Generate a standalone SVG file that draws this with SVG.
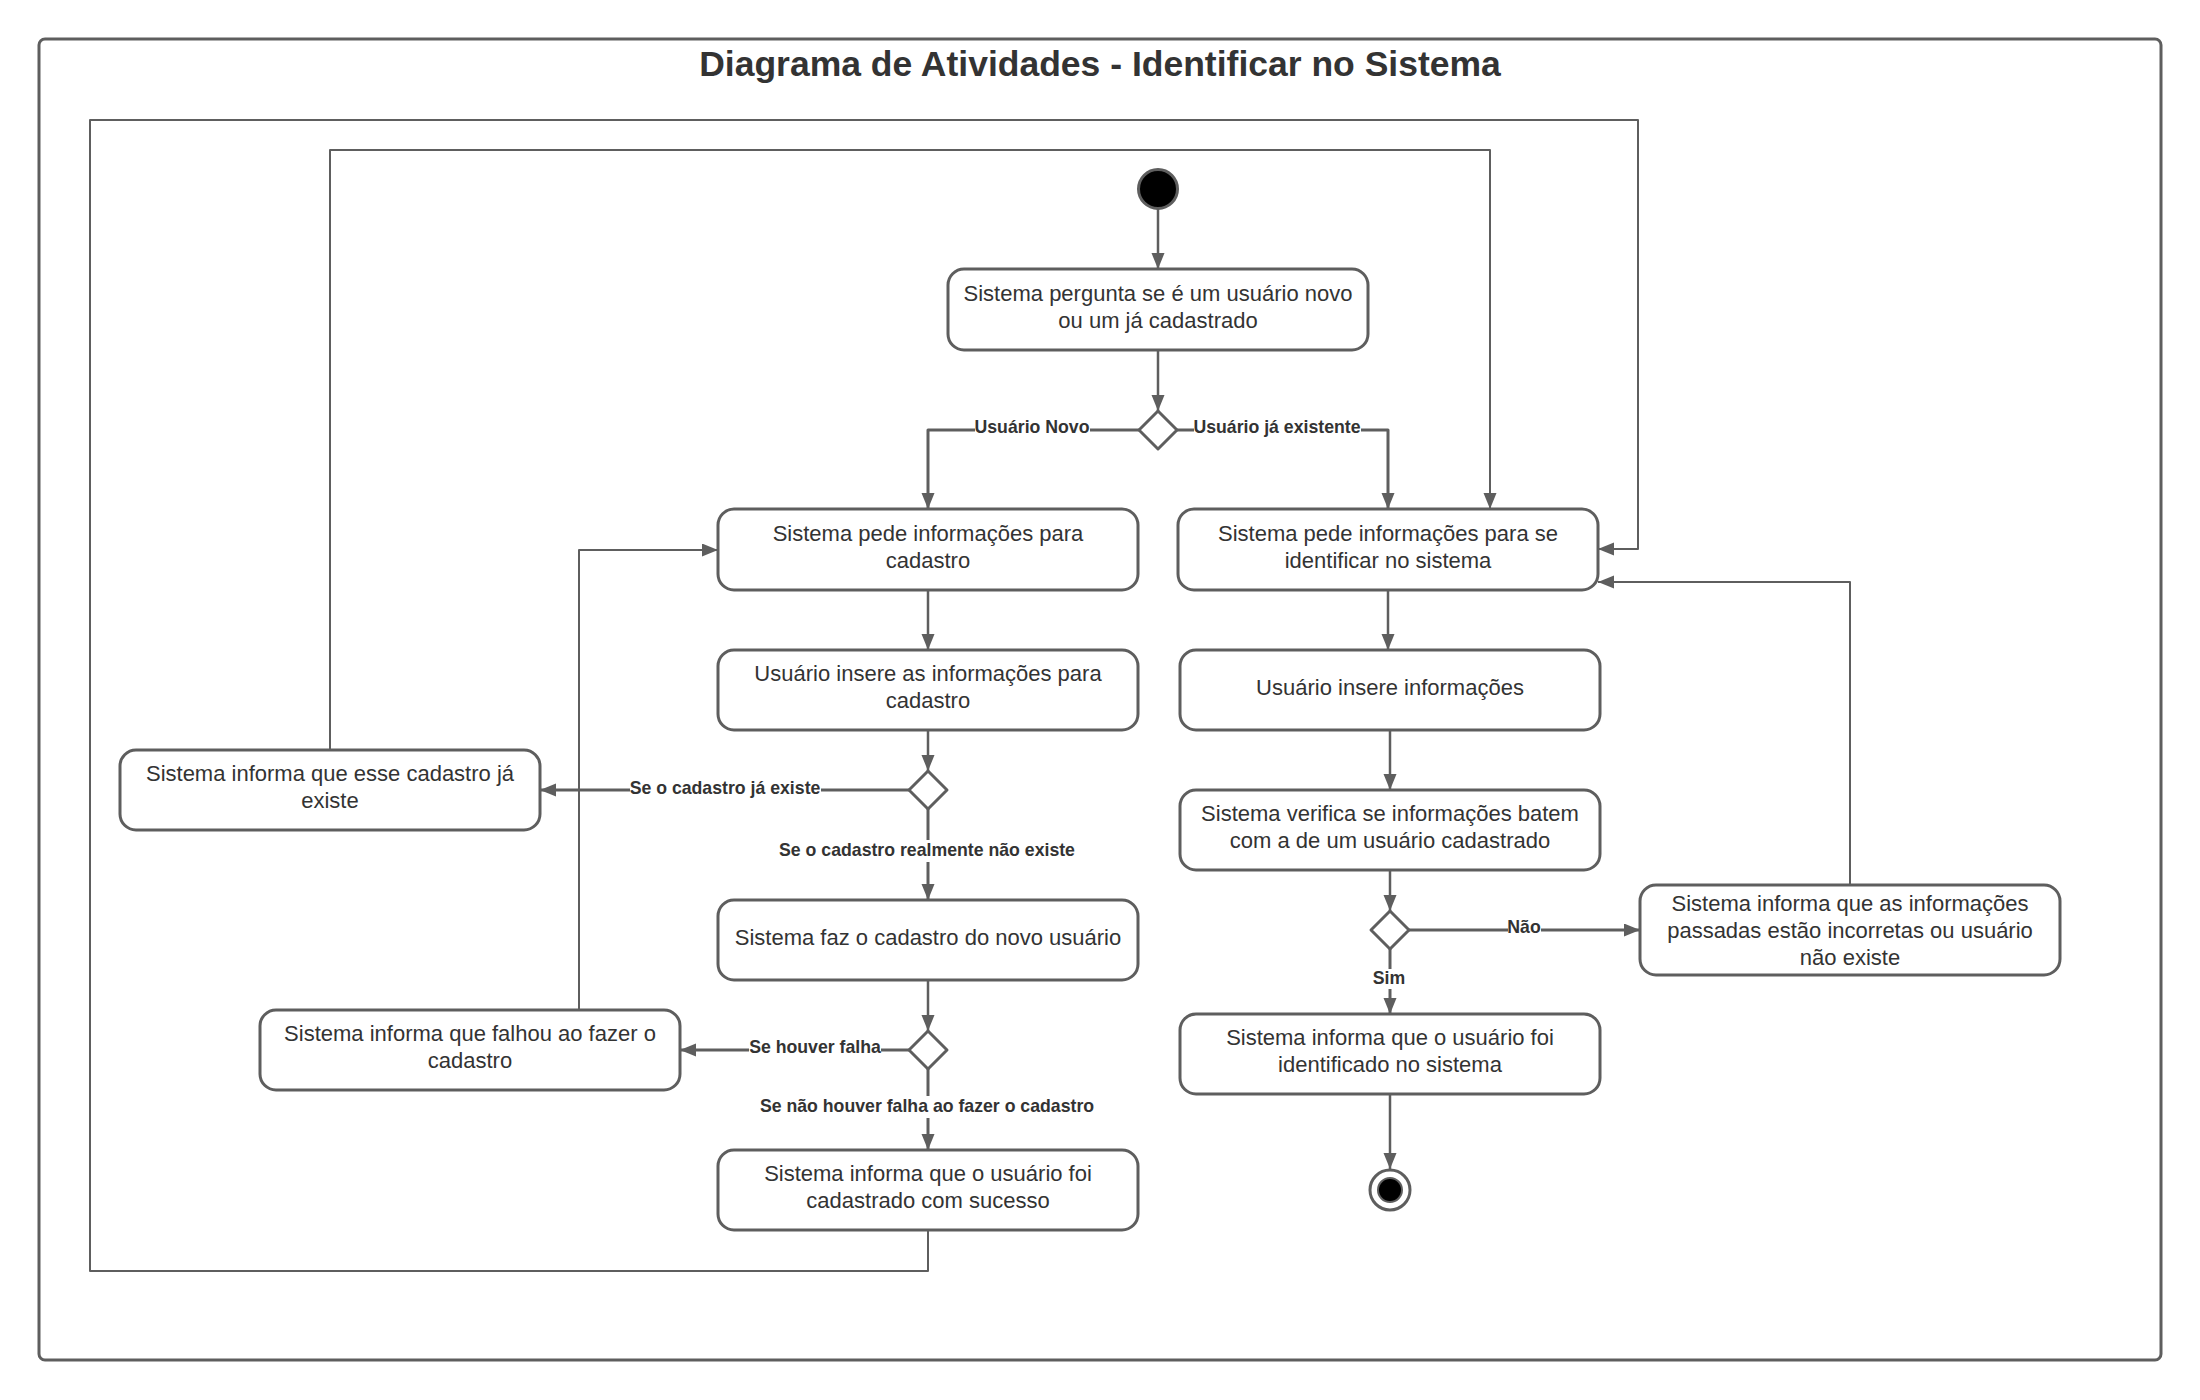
<svg xmlns="http://www.w3.org/2000/svg" width="2200" height="1400" viewBox="0 0 2200 1400">
<defs>
<marker id="arr" markerUnits="userSpaceOnUse" markerWidth="18" markerHeight="14" refX="16" refY="6.5" orient="auto">
<path d="M0,0 L16,6.5 L0,13 z" fill="#5e5e5e"/>
</marker>
<style>
.node rect{fill:#fff;stroke:#5e5e5e;stroke-width:3}
.node text{font-family:"Liberation Sans",Arial,sans-serif;font-size:22px;fill:#333;text-anchor:middle}
.dec polygon{fill:#fff;stroke:#5e5e5e;stroke-width:3;stroke-linejoin:round}
.c{fill:none;stroke:#5e5e5e;stroke-width:2.5;stroke-linejoin:round;marker-end:url(#arr)}
.loop{stroke-width:2}
.br{stroke-width:3}
.lbl text{font-family:"Liberation Sans",Arial,sans-serif;font-size:17.7px;font-weight:bold;fill:#333;text-anchor:middle}
.lbl rect{fill:#fff}
</style>
</defs>
<rect x="39" y="39" width="2122" height="1321" rx="6" fill="#fff" stroke="#5e5e5e" stroke-width="3"/>
<text x="1100" y="76" font-family="'Liberation Sans',Arial,sans-serif" font-size="35.5" font-weight="bold" fill="#333" text-anchor="middle">Diagrama de Atividades - Identificar no Sistema</text>

<g id="connectors">
<path class="c" d="M1158,209 V269"/>
<path class="c" d="M1158,350 V411"/>
<path class="c br" d="M1139,430 H928 V509"/>
<path class="c br" d="M1177,430 H1388 V509"/>
<path class="c" d="M928,590 V650"/>
<path class="c" d="M928,730 V771"/>
<path class="c br" d="M909,790 H540"/>
<path class="c br" d="M928,809 V900"/>
<path class="c" d="M928,980 V1031"/>
<path class="c br" d="M909,1050 H680"/>
<path class="c br" d="M928,1069 V1150"/>
<path class="c loop" d="M330,750 V150 H1490 V509"/>
<path class="c loop" d="M579,1010 V550 H718"/>
<path class="c loop" d="M928,1230 V1271 H90 V120 H1638 V549 H1598"/>
<path class="c" d="M1388,590 V650"/>
<path class="c" d="M1390,730 V790"/>
<path class="c" d="M1390,870 V911"/>
<path class="c br" d="M1409,930 H1640"/>
<path class="c br" d="M1390,949 V1014"/>
<path class="c loop" d="M1850,885 V582 H1598"/>
<path class="c" d="M1390,1094 V1169"/>
</g>

<g class="lbl">
<g id="lbl-novo"><rect x="975" y="418" width="115" height="20"/><text x="1032" y="433">Usuário Novo</text></g>
<g id="lbl-existente"><rect x="1194" y="418" width="167" height="20"/><text x="1277" y="433">Usuário já existente</text></g>
<g id="lbl-jaexiste"><rect x="630" y="779" width="191" height="20"/><text x="725" y="794">Se o cadastro já existe</text></g>
<g id="lbl-naoexiste"><rect x="779" y="840" width="296" height="22"/><text x="927" y="856">Se o cadastro realmente não existe</text></g>
<g id="lbl-falha"><rect x="749" y="1038" width="132" height="20"/><text x="815" y="1053">Se houver falha</text></g>
<g id="lbl-semfalha"><rect x="759" y="1096" width="336" height="22"/><text x="927" y="1112">Se não houver falha ao fazer o cadastro</text></g>
<g id="lbl-nao"><rect x="1508" y="918" width="33" height="20"/><text x="1524" y="933">Não</text></g>
<g id="lbl-sim"><rect x="1373" y="969" width="32" height="20"/><text x="1389" y="984">Sim</text></g>
</g>

<g id="start"><circle cx="1158" cy="189" r="19.5" fill="#000" stroke="#5e5e5e" stroke-width="3"/></g>

<g id="n1" class="node"><rect x="948" y="269" width="420" height="81" rx="16"/><text x="1158" y="301">Sistema pergunta se é um usuário novo</text><text x="1158" y="328">ou um já cadastrado</text></g>
<g id="d1" class="dec"><polygon points="1158,411 1177,430 1158,449 1139,430"/></g>
<g id="n2" class="node"><rect x="718" y="509" width="420" height="81" rx="16"/><text x="928" y="541">Sistema pede informações para</text><text x="928" y="568">cadastro</text></g>
<g id="n3" class="node"><rect x="1178" y="509" width="420" height="81" rx="16"/><text x="1388" y="541">Sistema pede informações para se</text><text x="1388" y="568">identificar no sistema</text></g>
<g id="n4" class="node"><rect x="718" y="650" width="420" height="80" rx="16"/><text x="928" y="681">Usuário insere as informações para</text><text x="928" y="708">cadastro</text></g>
<g id="d2" class="dec"><polygon points="928,771 947,790 928,809 909,790"/></g>
<g id="n5" class="node"><rect x="120" y="750" width="420" height="80" rx="16"/><text x="330" y="781">Sistema informa que esse cadastro já</text><text x="330" y="808">existe</text></g>
<g id="n6" class="node"><rect x="718" y="900" width="420" height="80" rx="16"/><text x="928" y="945">Sistema faz o cadastro do novo usuário</text></g>
<g id="d3" class="dec"><polygon points="928,1031 947,1050 928,1069 909,1050"/></g>
<g id="n7" class="node"><rect x="260" y="1010" width="420" height="80" rx="16"/><text x="470" y="1041">Sistema informa que falhou ao fazer o</text><text x="470" y="1068">cadastro</text></g>
<g id="n8" class="node"><rect x="718" y="1150" width="420" height="80" rx="16"/><text x="928" y="1181">Sistema informa que o usuário foi</text><text x="928" y="1208">cadastrado com sucesso</text></g>
<g id="n9" class="node"><rect x="1180" y="650" width="420" height="80" rx="16"/><text x="1390" y="695">Usuário insere informações</text></g>
<g id="n10" class="node"><rect x="1180" y="790" width="420" height="80" rx="16"/><text x="1390" y="821">Sistema verifica se informações batem</text><text x="1390" y="848">com a de um usuário cadastrado</text></g>
<g id="d4" class="dec"><polygon points="1390,911 1409,930 1390,949 1371,930"/></g>
<g id="n11" class="node"><rect x="1640" y="885" width="420" height="90" rx="16"/><text x="1850" y="911">Sistema informa que as informações</text><text x="1850" y="938">passadas estão incorretas ou usuário</text><text x="1850" y="965">não existe</text></g>
<g id="n12" class="node"><rect x="1180" y="1014" width="420" height="80" rx="16"/><text x="1390" y="1045">Sistema informa que o usuário foi</text><text x="1390" y="1072">identificado no sistema</text></g>
<g id="end"><circle cx="1390" cy="1190" r="20" fill="#fff" stroke="#5e5e5e" stroke-width="3"/><circle cx="1390" cy="1190" r="12" fill="#000" stroke="#5e5e5e" stroke-width="2"/></g>
</svg>
